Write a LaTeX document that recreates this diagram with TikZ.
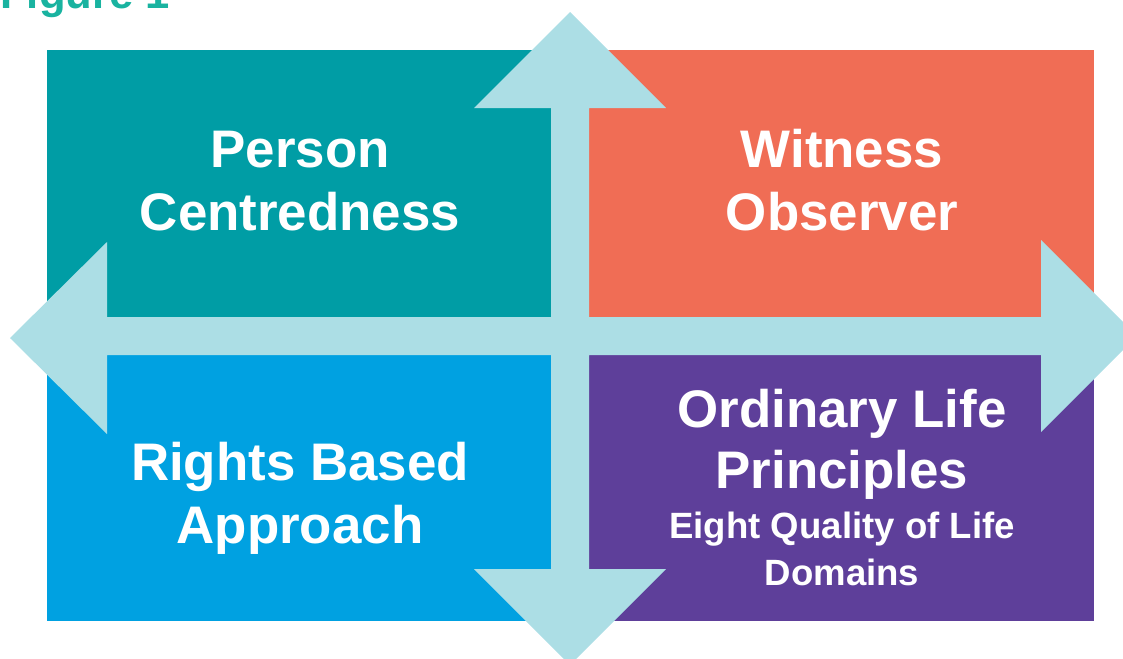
\documentclass[tikz,border=0pt]{standalone}
\usepackage{fontspec}
\setmainfont{Liberation Sans}
\usetikzlibrary{positioning}
\definecolor{quadteal}{HTML}{009DA5}
\definecolor{quadcoral}{HTML}{F06D55}
\definecolor{quadblue}{HTML}{00A1E1}
\definecolor{quadpurple}{HTML}{5E3F9A}
\definecolor{crossblue}{HTML}{ACDEE5}
\definecolor{figgreen}{HTML}{19B3A0}
\tikzset{quad/.style={draw=none},
         head text/.style={text=white,font=\fontsize{37.6}{44}\selectfont\bfseries,inner sep=0pt,anchor=base},
         sub text/.style={text=white,font=\fontsize{26}{31}\selectfont\bfseries,inner sep=0pt,anchor=base},
            }
\begin{document}
\begin{tikzpicture}[x=0.025cm,y=-0.025cm]
    \useasboundingbox (0,0) rectangle (1123,658);
    \clip (0,0) rectangle (1123,658);

    \node[text=figgreen,font=\fontsize{31}{36}\selectfont\bfseries,inner sep=0pt,anchor=base west] (fig) at (0,8) {Figure 1};

    % the four quadrants
    \fill[quadteal]   (47,50)  rectangle (570,336);
    \fill[quadcoral]  (570,50) rectangle (1094,336);
    \fill[quadblue]   (47,336) rectangle (570,621);
    \fill[quadpurple] (570,336) rectangle (1094,621);

    % four-way arrow
    \fill[crossblue] (570,12) -- (666,108) -- (589,108) -- (589,317) -- (1041,317) -- (1041,240)
        -- (1137,336) -- (1041,432) -- (1041,355) -- (589,355) -- (589,569) -- (666,569)
        -- (570,665) -- (474,569) -- (551,569) -- (551,355) -- (107,355) -- (107,434)
        -- (10,338) -- (107,242) -- (107,317) -- (551,317) -- (551,108) -- (474,108) -- cycle;

    \node[head text] (person) at (300,167) {Person};
    \node[head text] (centred) at (300,230) {Centredness};

    \node[head text] (witness) at (842,167) {Witness};
    \node[head text] (observer) at (842,230) {Observer};

    \node[head text] (rights) at (300,480) {Rights Based};
    \node[head text] (approach) at (300,543) {Approach};

    \node[head text] (ordinary) at (842,427) {Ordinary Life};
    \node[head text] (principles) at (842,488) {Principles};
    \node[sub text] (eight) at (842,538) {Eight Quality of Life};
    \node[sub text] (domains) at (842,585) {Domains};
\end{tikzpicture}
\end{document}
